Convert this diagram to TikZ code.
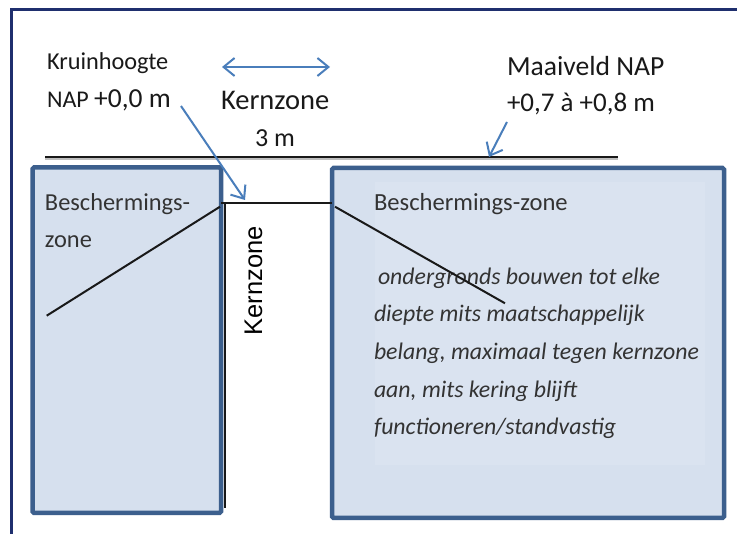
\documentclass[tikz,border=0pt]{standalone}
\usepackage{fontspec}
\setmainfont{Carlito}
\newfontfamily\arialf{Liberation Sans}
\usetikzlibrary{arrows.meta}
\definecolor{framenavy}{HTML}{1F2F6E}
\definecolor{boxfill}{HTML}{D6E0EE}
\definecolor{innerfill}{HTML}{DAE3F0}
\definecolor{boxedge}{HTML}{3C5F8D}
\definecolor{arrowblue}{HTML}{4A7EBB}
\definecolor{txtgray}{HTML}{333333}
\begin{document}
\begin{tikzpicture}[x=1pt,y=-1pt,
  lbl/.style={anchor=base west, inner sep=0pt, outer sep=0pt, text=black!90},
  zonetxt/.style={anchor=base west, inner sep=0pt, outer sep=0pt, text=txtgray},
  zonebox/.style={draw=boxedge, fill=boxfill, line width=4.5pt, rounded corners=1.5pt, anchor=north west, inner sep=0pt, outer sep=0pt},
  barb/.tip={Straight Barb[length=11pt,width=18pt,line width=2pt]},
  bluearrow/.style={draw=arrowblue, line width=2pt, -barb},
  blk/.style={draw=black!90, line width=2pt}]
\useasboundingbox (0,0) rectangle (737,534);
\fill[white] (0,0) rectangle (737,534);
% outer frame
\draw[framenavy, line width=2.2pt] (11.5,560) -- (11.5,9.5) -- (760,9.5);

% ground line
\coordinate (g0) at (45,157);
\coordinate (g1) at (618,157);
\draw[black!25, line width=1.5pt] ([yshift=-2pt]g0) -- ([yshift=-2pt]g1);
\draw[blk, line width=2.3pt] (g0) -- (g1);

% boxes
\node[zonebox, minimum width=188.5pt, minimum height=345.5pt] (lbox) at (32.5,167.5) {};
\node[zonebox, minimum width=392pt, minimum height=350pt] (rbox) at (332,168) {};
\fill[innerfill] (375,182) rectangle (705,465);

% kernzone lines
\coordinate (kt0) at (221,203.5);
\coordinate (kt1) at (332,203.5);
\coordinate (kv1) at (225,508);
\draw[blk] (kt0) -- (kt1);
\draw[blk, line width=2.2pt] (225,203.5) -- (kv1);

% texts
\node[lbl, font=\fontsize{24.3}{29}\selectfont] (kruin) at (47,69.5) {Kruinhoogte};
\node[lbl] (nap) at (47,108) {\fontsize{24}{29}\selectfont NAP \fontsize{27.5}{33}\selectfont+0,0 m};
\node[lbl, font=\fontsize{28.5}{34}\selectfont] (kz) at (221,110) {Kernzone};
\node[lbl, font=\fontsize{26}{31}\selectfont] (drie) at (255,147) {3 m};
\node[lbl, font=\fontsize{27.6}{33}\selectfont] (maai) at (507,76) {Maaiveld NAP};
\node[lbl, font=\fontsize{27}{32}\selectfont] (maai2) at (507,112) {+0,7 à +0,8 m};

\node[zonetxt, font=\fontsize{24.4}{29}\selectfont] (lb1) at (45,211) {Beschermings-};
\node[zonetxt, font=\fontsize{24.4}{29}\selectfont] (lb2) at (45,248) {zone};
\node[zonetxt, font=\fontsize{24.6}{29}\selectfont] (rb1) at (374,211) {Beschermings-zone};
\begin{scope}[every node/.style={zonetxt, font=\fontsize{23.8}{28}\selectfont\itshape}]
\node (i1) at (378,285) {ondergronds bouwen tot elke};
\node (i2) at (374,322) {diepte mits maatschappelijk};
\node (i3) at (374,360) {belang, maximaal tegen kernzone};
\node (i4) at (374,398) {aan, mits kering blijft};
\node (i5) at (374,435) {functioneren/standvastig};
\end{scope}

\node[anchor=base west, inner sep=0pt, rotate=90, font=\arialf\fontsize{25.5}{30}\selectfont] (kzv) at (262,335.5) {Kernzone};

% diagonal lines
\coordinate (dl0) at (46.7,315.7);
\coordinate (dl1) at (220,206.7);
\coordinate (dr0) at (335,206.7);
\coordinate (dr1) at (505,303.3);
\draw[blk] (dl0) -- (dl1);
\draw[blk] (dr0) -- (dr1);

% blue arrows
\coordinate (ha0) at (222,67);
\coordinate (ha1) at (330,67);
\draw[bluearrow, barb-barb] (ha0) -- (ha1);
\coordinate (ka0) at (181,106);
\coordinate (ka1) at (245,200);
\draw[bluearrow] (ka0) -- (ka1);
\coordinate (ma0) at (507,122);
\coordinate (ma1) at (489,157);
\draw[bluearrow] (ma0) -- (ma1);
\end{tikzpicture}
\end{document}
